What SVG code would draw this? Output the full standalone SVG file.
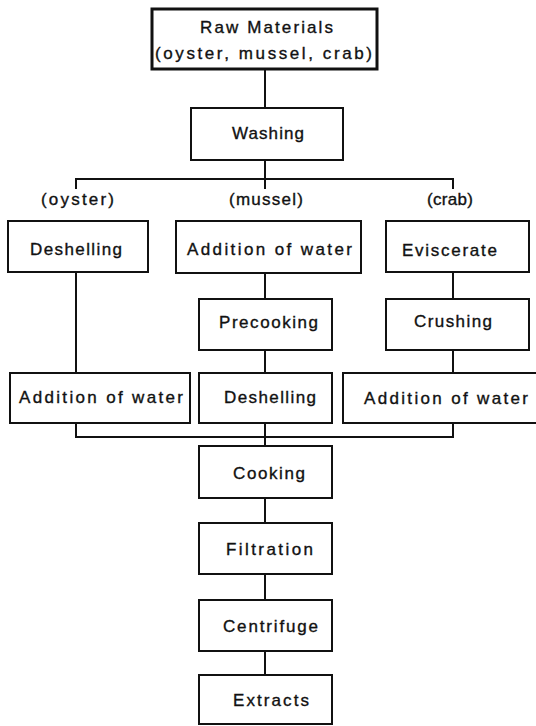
<svg xmlns="http://www.w3.org/2000/svg" width="536" height="726" viewBox="0 0 536 726">
<style>
.box{fill:#fff;stroke:#111;stroke-width:2}
.thick{stroke-width:3}
.ln{fill:none;stroke:#111;stroke-width:2}
text{font-family:"Liberation Sans",Arial,sans-serif;font-size:17px;fill:#111;stroke:#111;stroke-width:0.35;text-anchor:middle}
</style>
<rect width="536" height="726" fill="#fff"/>
<g id="connectors">
<path class="ln" d="M265 69V108"/>
<path class="ln" d="M265 160V189M76 189V179H453V189"/>
<path class="ln" d="M76 272V373"/>
<path class="ln" d="M265 273V299M265 350V373"/>
<path class="ln" d="M453 272V299M453 350V373"/>
<path class="ln" d="M76 423V437H453V423M265 423V446"/>
<path class="ln" d="M265 498V523M265 574V600M265 651V675"/>
</g>
<g id="raw"><rect class="box thick" x="152" y="9" width="225" height="60"/>
<text x="266.5" y="33" textLength="133" lengthAdjust="spacing">Raw Materials</text>
<text x="263.5" y="59" textLength="217" lengthAdjust="spacing">(oyster, mussel, crab)</text></g>
<g id="washing"><rect class="box" x="191" y="108" width="152" height="52"/>
<text x="268" y="139" textLength="72" lengthAdjust="spacing">Washing</text></g>
<g id="label-oyster"><text x="77.5" y="205" textLength="73" lengthAdjust="spacing">(oyster)</text></g>
<g id="label-mussel"><text x="266" y="205" textLength="74" lengthAdjust="spacing">(mussel)</text></g>
<g id="label-crab"><text x="450" y="205" textLength="46" lengthAdjust="spacing">(crab)</text></g>
<g id="oyster-deshelling"><rect class="box" x="8" y="221" width="140" height="51"/>
<text x="76" y="255" textLength="92" lengthAdjust="spacing">Deshelling</text></g>
<g id="mussel-water"><rect class="box" x="176" y="221" width="185" height="52"/>
<text x="269.5" y="255" textLength="165" lengthAdjust="spacing">Addition of water</text></g>
<g id="crab-eviscerate"><rect class="box" x="386" y="221" width="143" height="51"/>
<text x="449.5" y="256" textLength="95" lengthAdjust="spacing">Eviscerate</text></g>
<g id="mussel-precooking"><rect class="box" x="199" y="299" width="133" height="51"/>
<text x="268.5" y="328" textLength="99" lengthAdjust="spacing">Precooking</text></g>
<g id="crab-crushing"><rect class="box" x="386" y="299" width="143" height="51"/>
<text x="453" y="327" textLength="78" lengthAdjust="spacing">Crushing</text></g>
<g id="oyster-water"><rect class="box" x="10" y="373" width="180" height="50"/>
<text x="101" y="403" textLength="164" lengthAdjust="spacing">Addition of water</text></g>
<g id="mussel-deshelling"><rect class="box" x="199" y="373" width="133" height="50"/>
<text x="270" y="403" textLength="92" lengthAdjust="spacing">Deshelling</text></g>
<g id="crab-water"><rect class="box" x="343" y="373" width="200" height="50"/>
<text x="446" y="404" textLength="164" lengthAdjust="spacing">Addition of water</text></g>
<g id="cooking"><rect class="box" x="199" y="446" width="133" height="52"/>
<text x="269" y="479" textLength="72" lengthAdjust="spacing">Cooking</text></g>
<g id="filtration"><rect class="box" x="199" y="523" width="133" height="51"/>
<text x="269.5" y="555" textLength="87" lengthAdjust="spacing">Filtration</text></g>
<g id="centrifuge"><rect class="box" x="199" y="600" width="133" height="51"/>
<text x="270.5" y="632" textLength="95" lengthAdjust="spacing">Centrifuge</text></g>
<g id="extracts"><rect class="box" x="199" y="675" width="133" height="49"/>
<text x="271" y="706" textLength="76" lengthAdjust="spacing">Extracts</text></g>
</svg>
